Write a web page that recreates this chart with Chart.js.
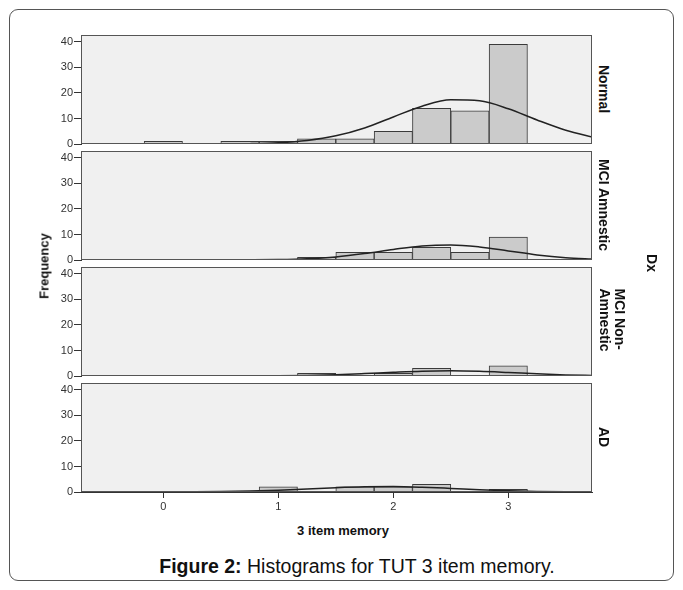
<!DOCTYPE html>
<html>
<head>
<meta charset="utf-8">
<script src="https://cdn.jsdelivr.net/npm/chart.js@4.4.1/dist/chart.umd.min.js"></script>
<style>
  body { margin: 0; background: #fff; font-family: Arial, "Liberation Sans", sans-serif; }
  #page { position: relative; width: 683px; height: 590px; overflow: hidden; }
  #frame { position: absolute; left: 9px; top: 9px; width: 663px; height: 570px; border: 1px solid #555; border-radius: 9px; }
  .panel { position: absolute; left: 41px; }
  .lbl { position: absolute; white-space: nowrap; font-weight: bold; color: #111; }
  .rot { transform: translate(-50%, -50%) rotate(90deg); }
  .rotl { transform: translate(-50%, -50%) rotate(-90deg); }
</style>
</head>
<body>
<div id="page">
  <div id="frame"></div>
  <div class="panel" style="top:28px"><canvas id="p0" width="552" height="123"></canvas></div>
  <div class="panel" style="top:144px"><canvas id="p1" width="552" height="123"></canvas></div>
  <div class="panel" style="top:260px"><canvas id="p2" width="552" height="123"></canvas></div>
  <div class="panel" style="top:376px"><canvas id="p3" width="552" height="141"></canvas></div>

  <div class="lbl rotl" style="left:44px; top:266px; font-size:13px;">Frequency</div>
  <div class="lbl rot" style="left:604px; top:89px; font-size:14px;">Normal</div>
  <div class="lbl rot" style="left:604px; top:205px; font-size:14px;">MCI Amnestic</div>
  <div class="lbl rot" style="left:612px; top:320px; font-size:14px; line-height:15px; text-align:left;">MCI Non-<br>Amnestic</div>
  <div class="lbl rot" style="left:604px; top:437px; font-size:14px;">AD</div>
  <div class="lbl rot" style="left:652px; top:263px; font-size:14px;">Dx</div>

  <div class="lbl" style="left:343px; top:530px; font-size:13px; transform:translate(-50%,-50%);">3 item memory</div>
  <div class="lbl" style="left:357px; top:566px; font-size:19.5px; font-weight:normal; transform:translate(-50%,-50%);"><b>Figure 2:</b> Histograms for TUT 3 item memory.</div>
</div>

<script>
// histogram bins (width 1/3) and counts per Dx group
const binCenters = [0, 1/3, 2/3, 1, 4/3, 5/3, 2, 7/3, 8/3, 3];
const normalCounts = [1, 0, 1, 1, 2, 2, 5, 14, 13, 39];
const amnesticCounts = [0, 0, 0, 0, 1, 3, 3, 5, 3, 9];
const nonAmnesticCounts = [0, 0, 0, 0, 1, 0, 1, 3, 0, 4];
const adCounts = [0, 0, 0, 2, 0, 2, 2, 3, 0, 1];

// fitted normal curves
const curveX = [-0.75, -0.5, -0.25, 0, 0.25, 0.5, 0.75, 1, 1.25, 1.5, 1.75, 2, 2.25, 2.5, 2.75, 3, 3.25, 3.5, 3.75];
const normalCurve = [0, 0, 0, 0, 0, 0.04, 0.14, 0.48, 1.37, 3.2, 6.3, 10.6, 14.8, 17.3, 16.9, 13.8, 9.4, 5.4, 2.5];
const amnesticCurve = [0, 0, 0, 0, 0, 0.01, 0.04, 0.15, 0.47, 1.21, 2.5, 4.13, 5.51, 5.92, 5.12, 3.57, 2.0, 0.9, 0.33];
const nonAmnesticCurve = [0, 0, 0, 0, 0, 0, 0.02, 0.08, 0.22, 0.49, 0.94, 1.46, 1.9, 2.06, 1.85, 1.38, 0.85, 0.44, 0.19];
const adCurve = [0, 0, 0.01, 0.02, 0.06, 0.15, 0.36, 0.7, 1.17, 1.68, 2.04, 2.12, 1.87, 1.41, 0.9, 0.49, 0.23, 0.09, 0.03];

const yTicks = [0, 10, 20, 30, 40];
const xTicks = [0, 1, 2, 3];

Chart.defaults.font.family = "Arial, 'Liberation Sans', sans-serif";
Chart.defaults.color = '#333';

const panelFrame = {
    id: 'panelFrame',
    beforeDraw(chart) {
        const {ctx, chartArea: a} = chart;
        ctx.save();
        ctx.fillStyle = '#f0f0f0';
        ctx.fillRect(a.left, a.top, a.width, a.height);
        ctx.restore();
    },
    afterDraw(chart) {
        const {ctx, chartArea: a} = chart;
        ctx.save();
        ctx.strokeStyle = '#555';
        ctx.lineWidth = 1;
        ctx.strokeRect(a.left + 0.5, a.top + 0.5, a.width - 1, a.height - 1);
        ctx.restore();
    }
};

function makePanel(id, counts, curve, showX) {
    const ctx = document.getElementById(id).getContext('2d');
    return new Chart(ctx, {
        type: 'bar',
        data: {
            datasets: [{
                type: 'line',
                data: curveX.map((x, i) => ({x: x, y: curve[i]})),
                borderColor: '#222',
                borderWidth: 1.5,
                pointRadius: 0,
                cubicInterpolationMode: 'monotone',
                order: 0
            }, {
                type: 'bar',
                data: binCenters.map((x, i) => ({x: x, y: counts[i]})),
                backgroundColor: '#cbcbcb',
                borderColor: '#3a3a3a',
                borderWidth: 1,
                barPercentage: 1,
                categoryPercentage: 1,
                order: 1
            }]
        },
        options: {
            responsive: false,
            animation: false,
            layout: { padding: {top: 7, bottom: showX ? 0 : 7, left: 0, right: 1} },
            plugins: { legend: {display: false}, tooltip: {enabled: false} },
            scales: {
                x: {
                    type: 'linear',
                    display: showX,
                    min: -0.716,
                    max: 3.728,
                    offset: false,
                    grid: { offset: false, drawOnChartArea: false, drawTicks: true, tickLength: 6, color: '#333' },
                    border: { display: true, color: '#333' },
                    ticks: { stepSize: 1, padding: 2, font: {size: 11}, color: '#333' },
                    afterBuildTicks: (axis) => { axis.ticks = xTicks.map(v => ({value: v})); },
                    afterFit: (axis) => {
                        axis.height = showX ? 25 : 0;
                        axis.paddingLeft = 0;
                        axis.paddingRight = 0;
                    }
                },
                y: {
                    min: 0,
                    max: 42.7,
                    grid: { drawOnChartArea: false, drawTicks: true, tickLength: 7, color: '#333' },
                    border: { display: true, color: '#333' },
                    ticks: { stepSize: 10, padding: 1, font: {size: 11}, color: '#333' },
                    afterBuildTicks: (axis) => { axis.ticks = yTicks.map(v => ({value: v})); },
                    afterFit: (axis) => { axis.width = 40; axis.paddingTop = 0; axis.paddingBottom = 0; }
                }
            }
        },
        plugins: [panelFrame]
    });
}

makePanel('p0', normalCounts, normalCurve, false);
makePanel('p1', amnesticCounts, amnesticCurve, false);
makePanel('p2', nonAmnesticCounts, nonAmnesticCurve, false);
makePanel('p3', adCounts, adCurve, true);
</script>
</body>
</html>
